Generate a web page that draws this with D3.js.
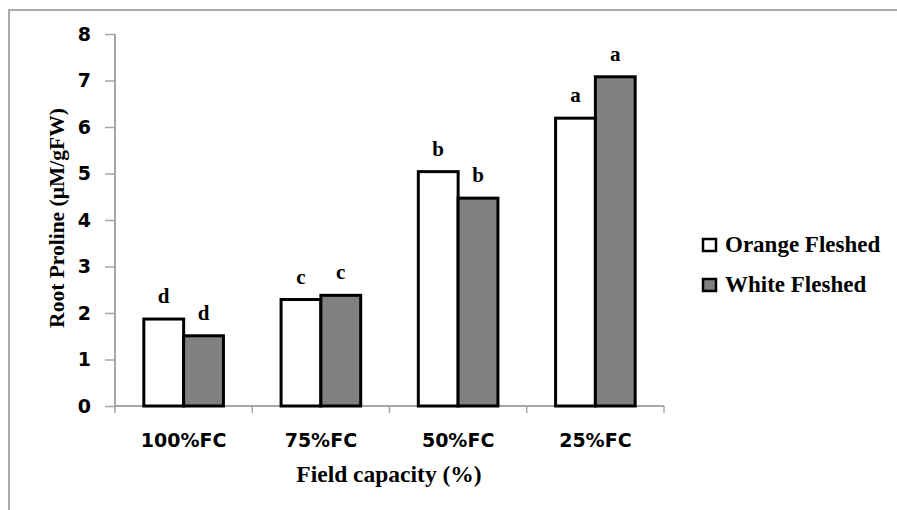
<!DOCTYPE html>
<html>
<head>
<meta charset="utf-8">
<script src="https://cdn.jsdelivr.net/npm/d3@7"></script>
<style>
  html, body { margin: 0; padding: 0; background: #fff; }
  svg { display: block; }
</style>
</head>
<body>
<svg id="chart" width="897" height="510"></svg>
<script>
// Root proline content by field capacity treatment
const categories = ["100%FC", "75%FC", "50%FC", "25%FC"];
const seriesNames = ["Orange Fleshed", "White Fleshed"];
const orangeValues = [1.87, 2.29, 5.04, 6.19];
const whiteValues = [1.51, 2.38, 4.47, 7.08];
const orangeLetters = ["d", "c", "b", "a"];
const whiteLetters = ["d", "c", "b", "a"];
const yTicks = [0, 1, 2, 3, 4, 5, 6, 7, 8];

const seriesFill = { "Orange Fleshed": "#ffffff", "White Fleshed": "#808080" };
const serif = "'Liberation Serif', 'Times New Roman', serif";
const sans = "'DejaVu Sans', Verdana, sans-serif";
const axisGray = "#a6a6a6";

const rows = categories.map((c, i) => ({
  category: c,
  bars: [
    { series: seriesNames[0], value: orangeValues[i], letter: orangeLetters[i] },
    { series: seriesNames[1], value: whiteValues[i], letter: whiteLetters[i] }
  ]
}));

const svg = d3.select("#chart");

// outer frame
svg.append("rect")
  .attr("x", 9).attr("y", 10)
  .attr("width", 1000).attr("height", 600)
  .attr("fill", "none")
  .attr("stroke", "#ababab")
  .attr("stroke-width", 2);

const plot = { left: 115, right: 664, top: 34, bottom: 406 };

const x0 = d3.scaleBand()
  .domain(categories)
  .range([plot.left, plot.right])
  .paddingInner(0.42)
  .paddingOuter(0.21);

const x1 = d3.scaleBand()
  .domain(seriesNames)
  .range([0, x0.bandwidth()]);

const y = d3.scaleLinear()
  .domain([0, 8])
  .range([plot.bottom, plot.top]);

// y axis
const yAxis = svg.append("g")
  .attr("transform", `translate(${plot.left},0)`)
  .call(d3.axisLeft(y).tickValues(yTicks).tickFormat(d3.format("d")).tickSize(10).tickPadding(14));
yAxis.select(".domain").attr("stroke", axisGray).attr("stroke-width", 2)
  .attr("d", `M0,${plot.top}V${plot.bottom}`);
yAxis.selectAll(".tick line").attr("stroke", axisGray).attr("stroke-width", 1.5);
yAxis.selectAll(".tick text")
  .attr("fill", "#000")
  .style("font-family", sans)
  .style("font-weight", "bold")
  .style("font-size", "19px");

// x axis: ticks sit on the category boundaries
const boundaries = d3.range(categories.length + 1).map(i => plot.left + i * x0.step());
const xAxis = svg.append("g").attr("transform", `translate(0,${plot.bottom})`);
xAxis.append("line")
  .attr("x1", plot.left).attr("x2", plot.right)
  .attr("stroke", axisGray).attr("stroke-width", 2);
xAxis.selectAll("line.tick")
  .data(boundaries)
  .join("line")
  .attr("class", "tick")
  .attr("x1", d => d).attr("x2", d => d)
  .attr("y1", 0).attr("y2", 7)
  .attr("stroke", axisGray).attr("stroke-width", 1.5);
xAxis.selectAll("text")
  .data(categories)
  .join("text")
  .attr("x", d => x0(d) + x0.bandwidth() / 2)
  .attr("y", 41)
  .attr("text-anchor", "middle")
  .style("font-family", sans)
  .style("font-weight", "bold")
  .style("font-size", "19px")
  .text(d => d);

// bars
const groups = svg.append("g").selectAll("g")
  .data(rows)
  .join("g")
  .attr("transform", d => `translate(${x0(d.category)},0)`);

groups.selectAll("rect")
  .data(d => d.bars)
  .join("rect")
  .attr("x", d => x1(d.series))
  .attr("y", d => y(d.value))
  .attr("width", x1.bandwidth())
  .attr("height", d => y(0) - y(d.value))
  .attr("fill", d => seriesFill[d.series])
  .attr("stroke", "#000")
  .attr("stroke-width", 3);

groups.selectAll("text")
  .data(d => d.bars)
  .join("text")
  .attr("x", d => x1(d.series) + x1.bandwidth() / 2)
  .attr("y", d => y(d.value) - 16)
  .attr("text-anchor", "middle")
  .style("font-family", serif)
  .style("font-weight", "bold")
  .style("font-size", "21px")
  .text(d => d.letter);

// axis titles
svg.append("text")
  .attr("transform", "translate(64,218) rotate(-90)")
  .attr("text-anchor", "middle")
  .style("font-family", serif)
  .style("font-weight", "bold")
  .style("font-size", "21.5px")
  .text("Root Proline (µM/gFW)");

svg.append("text")
  .attr("x", 389).attr("y", 482)
  .attr("text-anchor", "middle")
  .style("font-family", serif)
  .style("font-weight", "bold")
  .style("font-size", "23.5px")
  .text("Field capacity (%)");

// legend
const legend = svg.append("g").attr("transform", "translate(702,0)");
const legendItems = legend.selectAll("g")
  .data(seriesNames)
  .join("g")
  .attr("transform", (d, i) => `translate(0,${252 + i * 40})`);
legendItems.append("rect")
  .attr("x", 1).attr("y", -13)
  .attr("width", 13).attr("height", 12)
  .attr("fill", d => seriesFill[d])
  .attr("stroke", "#000")
  .attr("stroke-width", 2.5);
legendItems.append("text")
  .attr("x", 23).attr("y", 0)
  .style("font-family", serif)
  .style("font-weight", "bold")
  .style("font-size", "23px")
  .text(d => d);
</script>
</body>
</html>
